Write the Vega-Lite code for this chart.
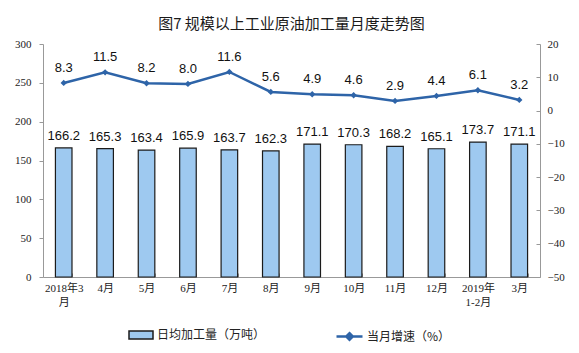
{
  "$schema": "https://vega.github.io/schema/vega-lite/v6.json",
  "width": 497,
  "height": 233,
  "autosize": {"type": "none"},
  "padding": {"left": 43, "top": 44, "right": 39, "bottom": 76},
  "background": "white",
  "title": {"text": "图7 规模以上工业原油加工量月度走势图", "font": "Noto Sans CJK SC", "fontSize": 15, "fontWeight": "normal", "color": "#1a1a1a", "anchor": "middle", "frame": "group", "offset": 6},
  "config": {"view": {"stroke": null}, "axis": {"grid": false}},
  "data": {"values": [
    {"m": "2018年3|月", "v": 166.2, "g": 8.3},
    {"m": "4月", "v": 165.3, "g": 11.5},
    {"m": "5月", "v": 163.4, "g": 8.2},
    {"m": "6月", "v": 165.9, "g": 8.0},
    {"m": "7月", "v": 163.7, "g": 11.6},
    {"m": "8月", "v": 162.3, "g": 5.6},
    {"m": "9月", "v": 171.1, "g": 4.9},
    {"m": "10月", "v": 170.3, "g": 4.6},
    {"m": "11月", "v": 168.2, "g": 2.9},
    {"m": "12月", "v": 165.1, "g": 4.4},
    {"m": "2019年|1-2月", "v": 173.7, "g": 6.1},
    {"m": "3月", "v": 171.1, "g": 3.2}
  ]},
  "encoding": {
    "x": {"field": "m", "type": "nominal", "sort": null, "title": null,
      "scale": {"paddingInner": 0.6, "paddingOuter": 0.3},
      "axis": {"labelExpr": "datum.value ? split(datum.value, '|') : ''", "labelAngle": 0, "labelFont": "Liberation Serif, Noto Sans CJK SC", "labelFontSize": 11, "labelColor": "#222", "labelLineHeight": 14, "labelPadding": 9, "domainColor": "#999", "tickColor": "#999", "tickBand": "extent", "tickSize": -4}
    }
  },
  "layer": [
    {
      "encoding": {"y": {"field": "v", "type": "quantitative", "title": null, "scale": {"domain": [0, 300]},
        "axis": {"orient": "left", "values": [0, 50, 100, 150, 200, 250, 300], "labelFont": "Liberation Serif", "labelFontSize": 11, "labelColor": "#222", "domainColor": "#999", "tickColor": "#999", "tickSize": 4, "labelPadding": 8}}},
      "layer": [
        {"mark": {"type": "bar", "stroke": "#1b1b1b", "strokeWidth": 1.2},
         "encoding": {"fill": {"datum": "日均加工量（万吨）", "type": "nominal", "scale": {"range": ["#9ec9f0"]},
           "legend": {"orient": "none", "legendX": 85, "legendY": 278, "title": null, "symbolType": "M-1,-0.33H1V0.33H-1Z", "symbolSize": 576, "symbolStrokeColor": "#1b1b1b", "symbolStrokeWidth": 1.5, "labelFont": "Noto Sans CJK SC", "labelFontSize": 12, "labelColor": "#222", "labelOffset": 3}}}},
        {"mark": {"type": "text", "dy": -8, "baseline": "alphabetic", "fontSize": 13, "font": "Liberation Sans", "color": "#111"},
         "encoding": {"text": {"field": "v", "type": "quantitative", "format": ".1f"}}}
      ]
    },
    {
      "encoding": {"y": {"field": "g", "type": "quantitative", "title": null, "scale": {"domain": [-50, 20]},
        "axis": {"orient": "right", "values": [-50, -40, -30, -20, -10, 0, 10, 20], "labelFont": "Liberation Serif", "labelFontSize": 11, "labelColor": "#222", "domainColor": "#999", "tickColor": "#999", "tickSize": -4, "labelPadding": 11}}},
      "layer": [
        {"mark": {"type": "line", "strokeWidth": 2.5},
         "encoding": {"stroke": {"datum": "当月增速（%）", "type": "nominal", "scale": {"range": ["#2e64a8"]},
           "legend": {"orient": "none", "legendX": 292, "legendY": 278, "title": null, "symbolType": "M-1,0H1M0,-0.25L0.25,0L0,0.25L-0.25,0Z", "symbolSize": 676, "symbolStrokeWidth": 2.5, "symbolFillColor": "#2e64a8", "labelFont": "Noto Sans CJK SC", "labelFontSize": 12, "labelColor": "#222", "labelOffset": 3}}}},
        {"mark": {"type": "point", "shape": "diamond", "size": 40, "filled": true, "color": "#2e64a8", "opacity": 1}},
        {"mark": {"type": "text", "dy": -11, "baseline": "alphabetic", "fontSize": 13, "font": "Liberation Sans", "color": "#111"},
         "encoding": {"text": {"field": "g", "type": "quantitative", "format": ".1f"}}}
      ]
    }
  ],
  "resolve": {"scale": {"y": "independent"}}
}
